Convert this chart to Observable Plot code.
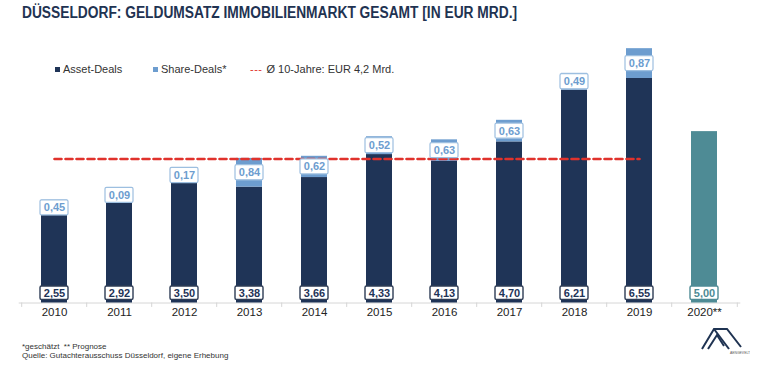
<!DOCTYPE html>
<html>
<head>
<meta charset="utf-8">
<script src="https://cdn.jsdelivr.net/npm/d3@7"></script>
<script src="https://cdn.jsdelivr.net/npm/@observablehq/plot@0.6"></script>
<style>
  html, body { margin: 0; padding: 0; background: #fff; }
  body { width: 762px; height: 369px; position: relative; overflow: hidden; font-family: "Liberation Sans", Arial, sans-serif; }
  #title { position: absolute; left: 22px; top: 4px; font-size: 16px; font-weight: bold; color: #1f3352; white-space: nowrap; transform: scaleX(0.86); transform-origin: 0 0; }
  #chart { position: absolute; left: 0; top: 40px; }
  #legend { position: absolute; left: 0; top: 63px; width: 762px; height: 16px; font-size: 11px; color: #333; white-space: nowrap; z-index: 2; }
  #legend .item { position: absolute; top: 0; }
  #legend i { display: inline-block; width: 5px; height: 5px; margin-right: 3px; vertical-align: 1px; }
  #legend .dash { color: #e0322c; letter-spacing: 0.5px; margin-right: 4px; }
  #notes { position: absolute; left: 22px; top: 342px; font-size: 8px; line-height: 9px; color: #333; }
  #logo { position: absolute; left: 700px; top: 322px; }
</style>
</head>
<body>
<div id="title">DÜSSELDORF: GELDUMSATZ IMMOBILIENMARKT GESAMT [IN EUR MRD.]</div>
<div id="legend">
  <span class="item" style="left:55px"><i style="background:#1f3457"></i>Asset-Deals</span>
  <span class="item" style="left:153px"><i style="background:#6d9dcf"></i>Share-Deals*</span>
  <span class="item" style="left:250px"><span class="dash">---</span>Ø 10-Jahre: EUR 4,2 Mrd.</span>
</div>
<div id="chart"></div>
<div id="notes">*geschätzt&nbsp; ** Prognose<br>Quelle: Gutachterausschuss Düsseldorf, eigene Erhebung</div>
<svg id="logo" width="50" height="36" viewBox="0 0 50 36">
  <g fill="none" stroke="#1f3352" stroke-width="2" stroke-linejoin="miter">
    <polyline points="2,27 14,7 27,7 41,25"/>
    <polyline points="8,27 17,13 24,24"/>
    <line x1="14" y1="7" x2="29" y2="27"/>
  </g>
  <text x="30" y="31.5" font-size="3.4" fill="#555" font-family="Liberation Sans, Arial">AENGEVELT</text>
</svg>
<script>
// Geldumsatz Düsseldorf, Mrd. EUR
const years  = ["2010", "2011", "2012", "2013", "2014", "2015", "2016", "2017", "2018", "2019", "2020**"];
const assetDeals = [2.55, 2.92, 3.50, 3.38, 3.66, 4.33, 4.13, 4.70, 6.21, 6.55, 5.00];
const shareDeals = [0.45, 0.09, 0.17, 0.84, 0.62, 0.52, 0.63, 0.63, 0.49, 0.87, null];
const forecastYear = "2020**";
const tenYearAverage = 4.2;
const averageYears = years.slice(0, 10);

const navy = "#1f3457", lightBlue = "#6d9dcf", teal = "#4e8b95", red = "#e0322c";
const fmt = v => d3.format(".2f")(v).replace(".", ",");

const rows = years.map((year, i) => ({
  year,
  asset: assetDeals[i],
  share: shareDeals[i],
  forecast: year === forecastYear
}));
const shareRows = rows.filter(d => d.share != null);

// label boxes, in value units (the y scale is ~34 px per Mrd.)
const boxHalf = 0.22;
const shareLabelY = d => d.asset + Math.max(d.share, 2 * boxHalf) / 2;
const assetBoxLow = 0.09, assetBoxHigh = 0.48;

const width = 762, height = 282;
const marginLeft = 18.7, marginRight = 21.7;
const step = (width - marginLeft - marginRight) / years.length;

const chart = Plot.plot({
  width, height,
  marginLeft, marginRight, marginTop: 2, marginBottom: 19.5,
  style: { fontFamily: "Liberation Sans, Arial, sans-serif", background: "transparent" },
  x: { domain: years, paddingInner: 0.6, paddingOuter: 0.3, label: null },
  y: { domain: [0, 7.6], axis: null },
  marks: [
    Plot.ruleY([0], { stroke: "#d6d6d6", strokeWidth: 1 }),
    Plot.ruleX(years, { x: d => d, y1: 0, y2: -0.13, dx: -step / 2, stroke: "#d6d6d6" }),
    Plot.ruleX(years.slice(-1), { x: d => d, y1: 0, y2: -0.13, dx: step / 2, stroke: "#d6d6d6" }),
    Plot.axisX({ tickSize: 0, tickPadding: 5, fontSize: 11.5, color: "#222" }),
    Plot.barY(rows, { x: "year", y1: 0, y2: "asset", fill: d => d.forecast ? teal : navy }),
    Plot.barY(shareRows, { x: "year", y1: "asset", y2: d => d.asset + d.share, fill: lightBlue }),
    Plot.lineY(averageYears, { x: d => d, y: () => tenYearAverage, stroke: red, strokeWidth: 2.6, strokeDasharray: "7,4" }),
    // share-deal value boxes
    Plot.barY(shareRows, {
      x: "year", y1: d => shareLabelY(d) - boxHalf, y2: d => shareLabelY(d) + boxHalf,
      fill: "white", stroke: "#9dbfe0", strokeWidth: 1.2, insetLeft: -1, insetRight: -1, rx: 1.5
    }),
    Plot.text(shareRows, {
      x: "year", y: shareLabelY, text: d => fmt(d.share),
      fill: lightBlue, fontWeight: "bold", fontSize: 11
    }),
    // asset-deal value boxes at the foot of each bar
    Plot.barY(rows, {
      x: "year", y1: () => assetBoxLow, y2: () => assetBoxHigh,
      fill: "white", stroke: d => d.forecast ? teal : "#2e3c55", strokeWidth: 1.4,
      insetLeft: -1, insetRight: -1, rx: 1.5
    }),
    Plot.text(rows, {
      x: "year", y: () => (assetBoxLow + assetBoxHigh) / 2, text: d => fmt(d.asset),
      fill: d => d.forecast ? teal : navy, fontWeight: "bold", fontSize: 11
    })
  ]
});
document.getElementById("chart").append(chart);
</script>
</body>
</html>
